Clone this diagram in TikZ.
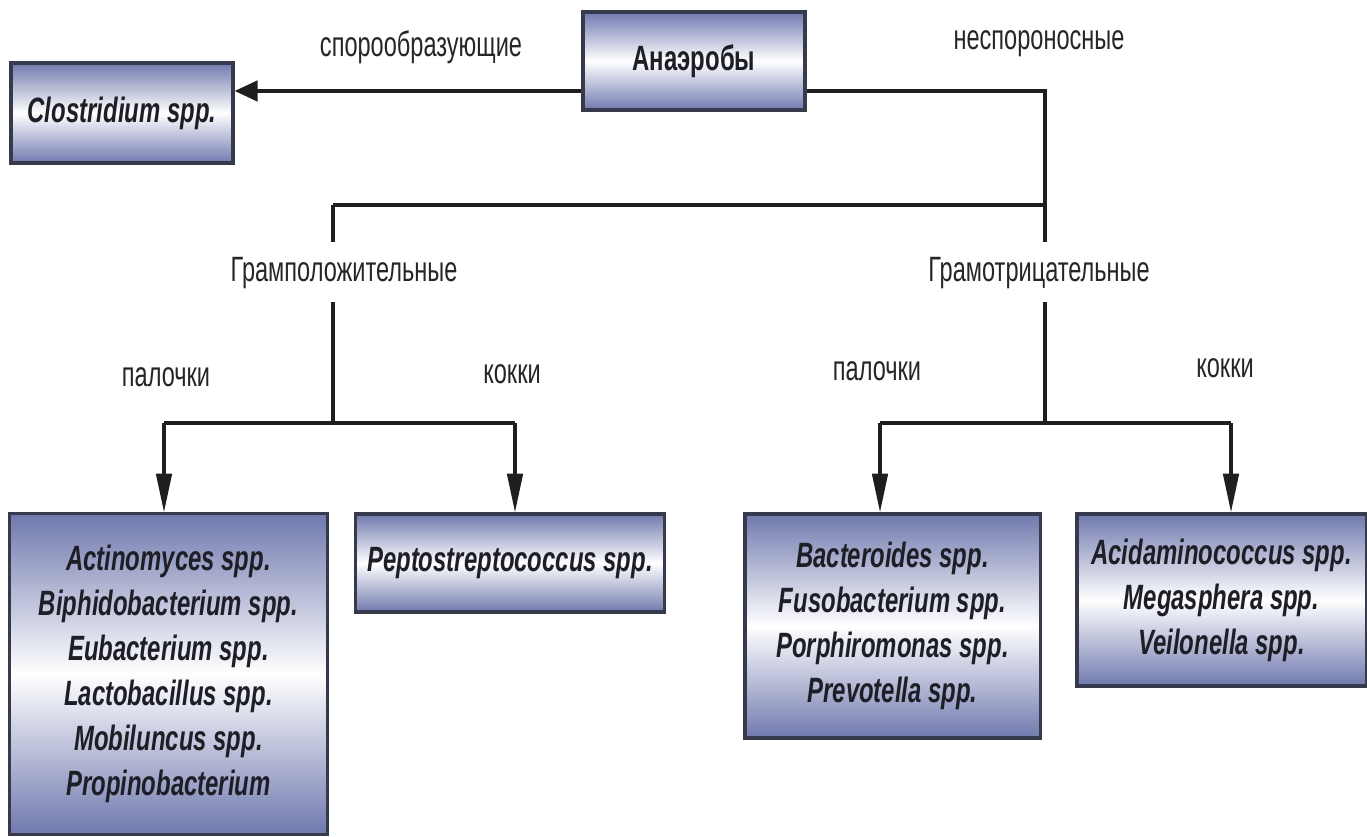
\documentclass[tikz,border=0pt]{standalone}
\usepackage{fontspec}
\usetikzlibrary{arrows.meta}
\newfontfamily\lblfont[FakeStretch=0.67]{Liberation Sans}
\newfontfamily\bxfont[FakeStretch=0.68]{Liberation Sans}
\definecolor{boxblue}{RGB}{112,121,174}
\definecolor{boxline}{RGB}{55,58,75}
\definecolor{txt}{RGB}{30,30,38}
\begin{document}
\begin{tikzpicture}[x=0.01cm,y=-0.01cm,
  gbox/.style={rectangle, draw=boxline, line width=0.9pt, top color=boxblue, bottom color=boxblue, middle color=white, inner sep=0pt, align=center, text=txt},
  spec/.style={gbox, font=\bxfont\bfseries\itshape\fontsize{10pt}{12.8pt}\selectfont},
  lbl/.style={font=\lblfont\fontsize{10pt}{12pt}\selectfont, text=black!85, inner sep=0pt},
  glbl/.style={lbl, inner xsep=3pt, inner ysep=3.9pt, text height=7.2pt, text depth=1.8pt},
  conn/.style={line width=0.9pt, draw=black!88},
  varrow/.style={conn, -{Triangle[length=11pt,width=4.4pt]}},
  harrow/.style={conn, -{Triangle[length=6.5pt,width=5.8pt]}}
]
\useasboundingbox (0,0) rectangle (1367,837);

% boxes
\node[gbox, font=\bxfont\bfseries\fontsize{10pt}{12pt}\selectfont, minimum width=2.22cm, minimum height=0.98cm] (anaer) at (694,61) {Анаэробы};
\node[spec, minimum width=2.22cm, minimum height=1.0cm] (clost) at (122,113) {Clostridium spp.};
\node[spec, minimum width=3.17cm, minimum height=3.20cm] (gpbox) at (168.5,674) {Actinomyces spp.\\Biphidobacterium spp.\\Eubacterium spp.\\Lactobacillus spp.\\Mobiluncus spp.\\Propinobacterium};
\node[spec, minimum width=3.08cm, minimum height=0.98cm] (pepto) at (510,563) {Peptostreptococcus spp.};
\node[spec, minimum width=2.95cm, minimum height=2.24cm] (bact) at (892.5,626) {Bacteroides spp.\\Fusobacterium spp.\\Porphiromonas spp.\\Prevotella spp.};
\node[spec, minimum width=2.89cm, minimum height=1.72cm] (acid) at (1221.5,600) {Acidaminococcus spp.\\Megasphera spp.\\Veilonella spp.};

% labels
\node[lbl] (spor) at (421,47) {спорообразующие};
\node[lbl] (nespor) at (1039,44) {неспороносные};
\node[glbl] (gpos) at (344,272) {Грамположительные};
\node[glbl] (gneg) at (1039,272) {Грамотрицательные};
\node[lbl] (pal1) at (166,377) {палочки};
\node[lbl] (kok1) at (512,374) {кокки};
\node[lbl] (pal2) at (877,371) {палочки};
\node[lbl] (kok2) at (1225,368) {кокки};

% junction coordinates
\coordinate (ylev) at (0,91);
\coordinate (jr) at (1045,205);
\coordinate (jl) at (333,205);
\coordinate (jl2) at (333,423);
\coordinate (al1) at (164,423);
\coordinate (al2) at (515,423);
\coordinate (jr2) at (1045,423);
\coordinate (ar1) at (880,423);
\coordinate (ar2) at (1231,423);

% connectors
\draw[harrow] (anaer.west |- ylev) -- (clost.east |- ylev);
\draw[conn] (anaer.east |- ylev) -| (jr);
\draw[conn] (jl) -- (jr);
\draw[conn] (jl) -- (jl |- gpos.north);
\draw[conn] (jr) -- (jr |- gneg.north);
\draw[conn] (jl |- gpos.south) -- (jl2);
\draw[conn] (jr |- gneg.south) -- (jr2);
\draw[conn] (al1) -- (al2);
\draw[conn] (ar1) -- (ar2);
\draw[varrow] (al1) -- (al1 |- gpbox.north);
\draw[varrow] (al2) -- (al2 |- pepto.north);
\draw[varrow] (ar1) -- (ar1 |- bact.north);
\draw[varrow] (ar2) -- (ar2 |- acid.north);
\end{tikzpicture}
\end{document}
